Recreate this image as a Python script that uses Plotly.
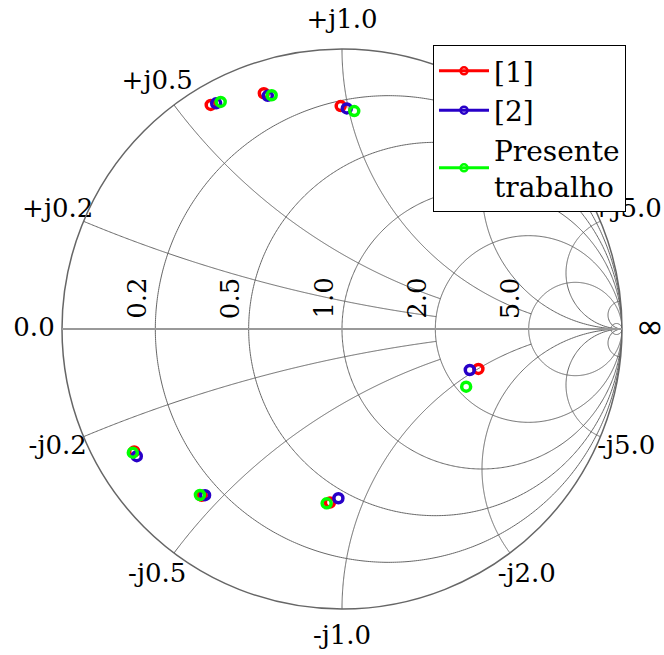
import numpy as np
import plotly.graph_objects as go

# Normalized impedances z = r + jx for each data set
ref1_r = [0.050, 0.091, 0.223, 2.62, 0.080, 0.151, 0.417]
ref1_x = [0.572, 0.718, 0.969, -1.006, -0.271, -0.457, -0.842]
ref2_r = [0.054, 0.103, 0.239, 2.43, 0.080, 0.159, 0.456]
ref2_x = [0.586, 0.726, 0.993, -0.925, -0.283, -0.462, -0.869]
work_r = [0.057, 0.106, 0.258, 2.16, 0.076, 0.149, 0.406]
work_x = [0.598, 0.738, 1.024, -1.17, -0.272, -0.452, -0.830]

series_names = ["[1]", "[2]", "Presente<br>trabalho"]
series_colors = ["#ff0000", "#2800c8", "#00ff00"]

# Grid values and labels
real_ticks = [0.2, 0.5, 1.0, 2.0, 5.0]
real_labels = ["0.2", "0.5", "1.0", "2.0", "5.0"]
imag_ticks = [0.2, 0.5, 1.0, 2.0, 5.0]
imag_pos_labels = ["+j0.2", "+j0.5", "+j1.0", "+j2.0", "+j5.0"]
imag_neg_labels = ["-j0.2", "-j0.5", "-j1.0", "-j2.0", "-j5.0"]
# constant-reactance arcs end on these resistance circles (None = run to infinity)
arc_stop = {0.2: 2.0, 0.5: 2.0, 1.0: 5.0, 2.0: None, 5.0: None, 20.0: None}
# unlabeled fine grid close to the open-circuit point
extra_real = [50.0]
extra_imag = [20.0]

FONT = "DejaVu Serif"
FSIZE = 26
GRID = "#666666"
RIM = 1.1  # radial position of the reactance labels, in units of |Gamma|


def gamma(z):
    z = np.asarray(z, dtype=complex)
    return (z - 1) / (z + 1)


def impedance(g):
    g = np.asarray(g, dtype=complex)
    return (1 + g) / (1 - g)


def r_circle(r, n=700):
    c, rho = r / (1 + r), 1 / (1 + r)
    phi = np.linspace(1e-4, 2 * np.pi - 1e-4, n)
    z = impedance(c + rho * np.exp(1j * phi))
    return np.full(n, r), z.imag


def x_arc(x, rmax, n=400):
    tmax = np.pi / 2 - 1e-4 if rmax is None else np.arctan(rmax)
    rr = np.tan(np.linspace(0, tmax, n))
    return rr, np.full(n, x)


fig = go.Figure()

grid_line = dict(color=GRID, width=1)
for r in real_ticks + extra_real:
    rr, xx = r_circle(r)
    fig.add_trace(go.Scattersmith(real=rr, imag=xx, mode="lines", line=grid_line,
                                  hoverinfo="skip", showlegend=False))
for x in imag_ticks + extra_imag:
    for s in (1, -1):
        rr, xx = x_arc(s * x, arc_stop[x])
        fig.add_trace(go.Scattersmith(real=rr, imag=xx, mode="lines", line=grid_line,
                                      hoverinfo="skip", showlegend=False))

# Reactance labels just outside the rim (0 on the left)
rim_vals = [0.0] + imag_ticks + [-v for v in imag_ticks]
rim_text = ["0.0"] + imag_pos_labels + imag_neg_labels
rim_z = impedance(RIM * np.exp(1j * np.angle(gamma(1j * np.array(rim_vals)))))
fig.add_trace(go.Scattersmith(
    real=rim_z.real, imag=rim_z.imag, mode="text", text=rim_text,
    textposition="middle center", cliponaxis=False,
    textfont=dict(family=FONT, size=FSIZE, color="black"),
    hoverinfo="skip", showlegend=False))
# infinity mark on the right end of the real axis
inf_z = impedance([RIM + 0j])
fig.add_trace(go.Scattersmith(
    real=inf_z.real, imag=inf_z.imag, mode="text", text=["∞"],
    textposition="middle center", cliponaxis=False,
    textfont=dict(family="DejaVu Sans", size=34, color="black"),
    hoverinfo="skip", showlegend=False))

# Data markers
for rvals, xvals, color in zip([ref1_r, ref2_r, work_r], [ref1_x, ref2_x, work_x], series_colors):
    fig.add_trace(go.Scattersmith(
        real=rvals, imag=xvals, mode="markers",
        marker=dict(symbol="circle-open", size=9, color=color, line=dict(width=3.5, color=color)),
        showlegend=False))

# Legend entries (line + ring)
for name, color in zip(series_names, series_colors):
    fig.add_trace(go.Scattersmith(
        real=[None], imag=[None], mode="lines+markers", name=name,
        line=dict(color=color, width=3),
        marker=dict(symbol="circle-open", size=7, color=color, line=dict(width=2.5, color=color))))

# Resistance labels along the real axis
annotations = []
for r, t in zip(real_ticks, real_labels):
    g = complex(gamma(r))
    annotations.append(dict(x=0.5 + 0.5 * g.real, y=0.5, xref="paper", yref="paper", text=t,
                            showarrow=False, textangle=-90, xanchor="center", yanchor="bottom",
                            xshift=-19, yshift=8,
                            font=dict(family=FONT, size=FSIZE, color="black")))

fig.update_layout(
    width=664, height=655,
    margin=dict(l=62, r=42, t=49, b=46),
    paper_bgcolor="white", plot_bgcolor="white",
    smith=dict(
        domain=dict(x=[0, 1], y=[0, 1]),
        bgcolor="white",
        realaxis=dict(showgrid=False, showticklabels=False, ticks="", showline=True,
                      linecolor="#999999", linewidth=2),
        imaginaryaxis=dict(showgrid=False, showticklabels=False, ticks="", showline=True,
                           linecolor="#666666", linewidth=1.5),
    ),
    annotations=annotations,
    legend=dict(x=0.6625, y=1.007, xanchor="left", yanchor="top",
                bgcolor="white", bordercolor="black", borderwidth=1, itemwidth=50,
                font=dict(family=FONT, size=28, color="black"), tracegroupgap=0),
)

fig.write_html("out.html")
